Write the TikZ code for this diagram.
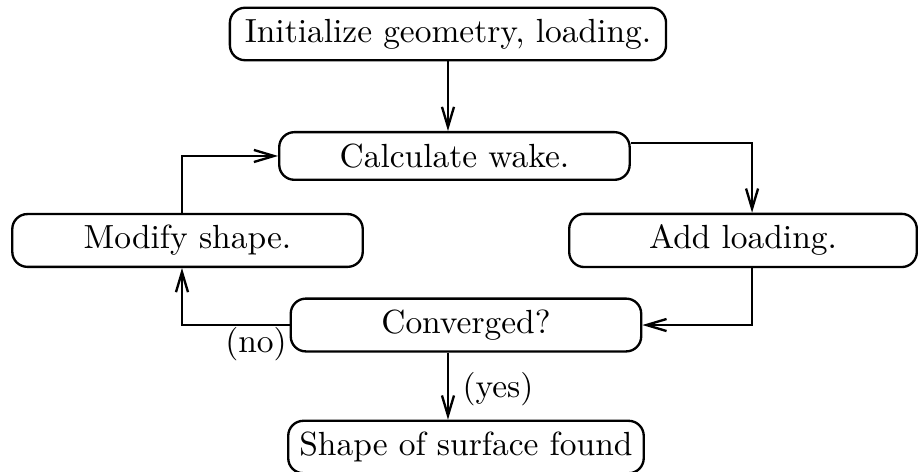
\documentclass[tikz,border=0pt]{standalone}
\usepackage{amsmath}
\usepackage{tikz}
\usetikzlibrary{shapes.geometric, arrows, arrows.meta, positioning}

\begin{document}
\begin{tikzpicture}[node distance=1.281cm, line width=0.7pt,
>={Straight Barb[length=6pt,width=3.6pt]}]

\tikzstyle{process} =
[rectangle,
rounded corners=4.5pt,
minimum width=3.68cm,
minimum height=0.5cm,
text centered,
draw=black]

\useasboundingbox (-4.704,-4.599) rectangle (4.946,0.357);

\node (init) [process, minimum width=4.58cm]
{Initialize geometry, loading.};

\node (wake) [process, below of=init, xshift=0.068cm]
{Calculate wake.};

\node (modify) [process, below of=wake, node distance=0.887cm, xshift=-2.803cm]
{Modify shape.};

\node (add) [process, below of=wake, node distance=0.887cm, xshift=3.03cm, minimum width=3.65cm]
{Add loading.};

\node (conv) [process, below of=wake, node distance=1.775cm, xshift=0.121cm]
{Converged?};

\node (shape) [process, below of=conv]
{Shape of surface found};

\draw[->] (init.south) -- (init.south |- wake.north);
\draw[->] ([yshift=0.137cm]wake.east) -| ([xshift=0.095cm]add.north);
\draw[->] ([xshift=0.095cm]add.south) |- (conv.east);
\draw[->] (conv.west) node[below left, inner sep=0.5pt] {(no)}
  -| ([xshift=-0.058cm]modify.south);
\draw[->] ([xshift=-0.058cm]modify.north) |- (wake.west);
\draw[->] (conv.south -| init) -- (shape.north -| init)
  node[pos=0.55, right, inner sep=4pt] {(yes)};

\end{tikzpicture}
\end{document}
